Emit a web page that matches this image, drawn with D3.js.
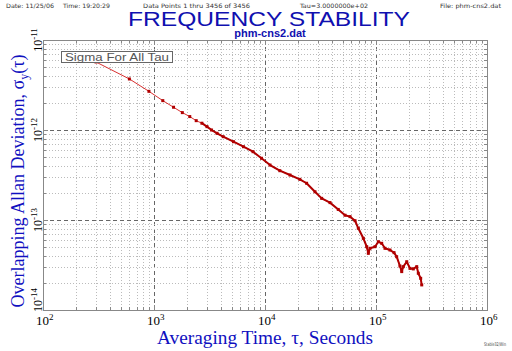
<!DOCTYPE html>
<html>
<head>
<meta charset="utf-8">
<script src="https://cdn.jsdelivr.net/npm/d3@7"></script>
<style>
  body { margin: 0; background: #fff; }
  svg { display: block; }
</style>
</head>
<body>
<div id="chart"></div>
<script>
// averaging times (s) and overlapping Allan deviation
const tauValues = [
  300, 600, 900, 1200, 1500, 1800, 2100, 2400, 2700, 3000,
  3300, 3700, 4200, 5200, 6400, 7800, 9300, 11100, 13600, 16800,
  20600, 23700, 28200, 32400, 38500, 45700, 52600, 58300, 64700, 69300,
  76900, 82500, 85300, 88300, 97900, 105000, 112500, 120500, 133700, 145300,
  153500, 164400, 170500, 176200, 189200, 202400, 216800, 232800, 240500, 252700,
  258200
];
const sigmaValues = [
  5.70e-12, 3.69e-12, 2.69e-12, 2.12e-12, 1.79e-12, 1.56e-12, 1.41e-12, 1.27e-12, 1.19e-12, 1.09e-12,
  1.00e-12, 9.19e-13, 8.43e-13, 7.41e-13, 6.52e-13, 5.74e-13, 4.85e-13, 4.08e-13, 3.53e-13, 3.16e-13,
  2.83e-13, 2.56e-13, 2.06e-13, 1.74e-13, 1.56e-13, 1.31e-13, 1.13e-13, 1.09e-13, 9.82e-14, 8.09e-14,
  6.26e-14, 5.05e-14, 4.26e-14, 4.85e-14, 5.05e-14, 5.74e-14, 5.51e-14, 4.85e-14, 4.64e-14, 4.34e-14,
  3.91e-14, 3.08e-14, 2.67e-14, 3.03e-14, 3.44e-14, 2.90e-14, 2.86e-14, 3.03e-14, 2.56e-14, 2.25e-14,
  1.90e-14
];
const xDecades = [2, 3, 4, 5, 6];
const yDecades = [-11, -12, -13, -14];

const headerTexts = [
  "Date: 11/25/06",
  "Time: 19:20:29",
  "Data Points 1 thru 3456 of 3456",
  "Tau=3.0000000e+02",
  "File: phm-cns2.dat"
];

const width = 512, height = 351;
const margin = { top: 40, right: 25, bottom: 41, left: 43 };

const data = tauValues.map((t, i) => ({ tau: t, sigma: sigmaValues[i] }));

const svg = d3.select("#chart")
  .append("svg")
  .attr("width", width)
  .attr("height", height);

const x = d3.scaleLog()
  .domain([1e2, 1e6])
  .range([margin.left, width - margin.right]);

const y = d3.scaleLog()
  .domain([1e-14, 1e-11])
  .range([height - margin.bottom, margin.top]);

const [x0, x1] = x.range();
const [y1, y0] = y.range();

// grid lines, dotted for 2..9, dashed at decades
const xGrid = [];
for (let d = 2; d < 6; d++) for (let m = 1; m < 10; m++) xGrid.push({ v: m * Math.pow(10, d), major: m === 1 });
const yGrid = [];
for (let d = -14; d < -11; d++) for (let m = 1; m < 10; m++) yGrid.push({ v: m * Math.pow(10, d), major: m === 1 });

const grid = svg.append("g").attr("class", "grid");

grid.selectAll("line.vx")
  .data(xGrid.filter(g => g.v > 1e2))
  .enter()
  .append("line")
  .attr("x1", d => Math.round(x(d.v)) + 0.5)
  .attr("x2", d => Math.round(x(d.v)) + 0.5)
  .attr("y1", y0)
  .attr("y2", y1)
  .attr("stroke", d => d.major ? "#666" : "#bbb")
  .attr("stroke-dasharray", d => d.major ? "4,3" : "1,2");

grid.selectAll("line.hy")
  .data(yGrid.filter(g => g.v > 1e-14))
  .enter()
  .append("line")
  .attr("y1", d => Math.round(y(d.v)) + 0.5)
  .attr("y2", d => Math.round(y(d.v)) + 0.5)
  .attr("x1", x0)
  .attr("x2", x1)
  .attr("stroke", d => d.major ? "#666" : "#bbb")
  .attr("stroke-dasharray", d => d.major ? "4,3" : "1,2");

// inward ticks on all four sides
const ticks = svg.append("g").attr("stroke", "#888");
xGrid.concat([{ v: 1e6, major: true }]).forEach(g => {
  const px = Math.round(x(g.v)) + 0.5;
  const len = g.major ? 5 : 3;
  ticks.append("line").attr("x1", px).attr("x2", px).attr("y1", y0).attr("y2", y0 + len);
  ticks.append("line").attr("x1", px).attr("x2", px).attr("y1", y1).attr("y2", y1 - len);
});
yGrid.concat([{ v: 1e-11, major: true }]).forEach(g => {
  const py = Math.round(y(g.v)) + 0.5;
  const len = g.major ? 5 : 3;
  ticks.append("line").attr("y1", py).attr("y2", py).attr("x1", x0).attr("x2", x0 + len);
  ticks.append("line").attr("y1", py).attr("y2", py).attr("x1", x1).attr("x2", x1 - len);
});

// frame
svg.append("rect")
  .attr("x", x0 + 0.5)
  .attr("y", y0 + 0.5)
  .attr("width", x1 - x0)
  .attr("height", y1 - y0)
  .attr("fill", "none")
  .attr("stroke", "#888");

// data line
const line = d3.line()
  .x(d => x(d.tau))
  .y(d => y(d.sigma));

svg.append("path")
  .datum(data)
  .attr("d", line)
  .attr("fill", "none")
  .attr("stroke", "#d83030")
  .attr("stroke-width", 1);

// dense part of the curve looks thick
svg.append("path")
  .datum(data.filter(d => d.tau >= 2700))
  .attr("d", line)
  .attr("fill", "none")
  .attr("stroke", "#b00000")
  .attr("stroke-width", 2)
  .attr("stroke-linejoin", "round");

svg.selectAll("rect.pt")
  .data(data)
  .enter()
  .append("rect")
  .attr("class", "pt")
  .attr("x", d => x(d.tau) - 1.5)
  .attr("y", d => y(d.sigma) - 1.5)
  .attr("width", 3)
  .attr("height", 3)
  .attr("fill", "#b00000");

// legend box
const legend = svg.append("g");
legend.append("rect")
  .attr("x", 61.5)
  .attr("y", 51.5)
  .attr("width", 111)
  .attr("height", 11)
  .attr("fill", "#fff")
  .attr("stroke", "#666");
legend.append("text")
  .attr("x", 117)
  .attr("y", 61)
  .attr("text-anchor", "middle")
  .attr("font-family", "Liberation Sans, Arial, sans-serif")
  .attr("font-size", 11)
  .attr("fill", "#555")
  .attr("textLength", 104)
  .attr("lengthAdjust", "spacingAndGlyphs")
  .text("Sigma For All Tau");

// x tick labels
const xLab = svg.append("g")
  .attr("font-family", "Liberation Serif, Times New Roman, serif")
  .attr("fill", "#000");
xDecades.forEach(d => {
  const t = xLab.append("text")
    .attr("x", x(Math.pow(10, d)) - 7)
    .attr("y", 325)
    .attr("font-size", 13);
  t.append("tspan").text("10");
  t.append("tspan").attr("dy", -5).attr("font-size", 9).text(d);
});

// y tick labels (rotated)
const yLab = svg.append("g")
  .attr("font-family", "Liberation Serif, Times New Roman, serif")
  .attr("fill", "#000");
yDecades.forEach(d => {
  const py = Math.min(y(Math.pow(10, d)), 300);
  const t = yLab.append("text")
    .attr("transform", `translate(42,${py}) rotate(-90)`)
    .attr("text-anchor", "middle")
    .attr("font-size", 12);
  t.append("tspan").text("10");
  t.append("tspan").attr("dy", -5).attr("font-size", 9).text(d);
});

// axis titles
svg.append("text")
  .attr("x", 265)
  .attr("y", 344)
  .attr("text-anchor", "middle")
  .attr("font-family", "Liberation Serif, Times New Roman, serif")
  .attr("font-size", 18)
  .attr("fill", "#1010c0")
  .attr("textLength", 216)
  .attr("lengthAdjust", "spacingAndGlyphs")
  .text("Averaging Time, τ, Seconds");

const yTitle = svg.append("text")
  .attr("transform", "translate(24,181) rotate(-90)")
  .attr("text-anchor", "middle")
  .attr("font-family", "Liberation Serif, Times New Roman, serif")
  .attr("font-size", 18)
  .attr("fill", "#1010c0");
yTitle.append("tspan").text("Overlapping Allan Deviation, σ");
yTitle.append("tspan").attr("dy", 4).attr("font-size", 12).text("y");
yTitle.append("tspan").attr("dy", -4).text("(τ)");

// titles
svg.append("text")
  .attr("x", 269)
  .attr("y", 26)
  .attr("text-anchor", "middle")
  .attr("font-family", "Liberation Sans, Arial, sans-serif")
  .attr("font-size", 21)
  .attr("fill", "#1010b0")
  .attr("textLength", 282)
  .attr("lengthAdjust", "spacingAndGlyphs")
  .text("FREQUENCY STABILITY");

svg.append("text")
  .attr("x", 270)
  .attr("y", 37)
  .attr("text-anchor", "middle")
  .attr("font-family", "Liberation Sans, Arial, sans-serif")
  .attr("font-size", 11)
  .attr("font-weight", "bold")
  .attr("fill", "#1010b0")
  .text("phm-cns2.dat");

// header line
const headerPos = [[6, 48], [63, 47], [143, 107], [300, 68], [440, 61]];
const header = svg.append("g")
  .attr("font-family", "DejaVu Sans, sans-serif")
  .attr("font-size", 6)
  .attr("fill", "#333");
headerTexts.forEach((s, i) => {
  header.append("text")
    .attr("x", headerPos[i][0])
    .attr("y", 7.5)
    .attr("textLength", headerPos[i][1])
    .attr("lengthAdjust", "spacingAndGlyphs")
    .text(s);
});

svg.append("text")
  .attr("x", 484)
  .attr("y", 346)
  .attr("font-family", "DejaVu Sans, sans-serif")
  .attr("font-size", 5)
  .attr("fill", "#444")
  .attr("textLength", 22)
  .attr("lengthAdjust", "spacingAndGlyphs")
  .text("Stable32/Win");
</script>
</body>
</html>
